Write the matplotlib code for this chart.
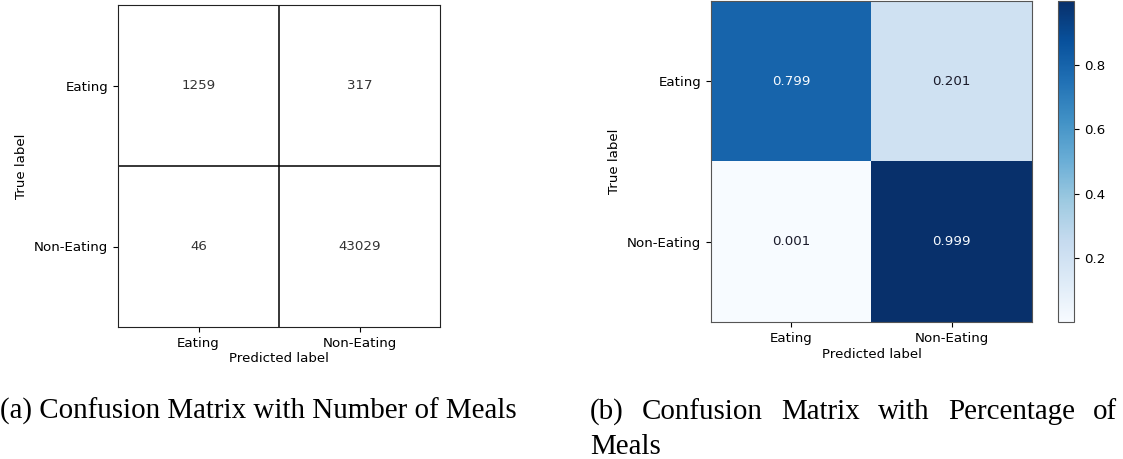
import numpy as np
import matplotlib
matplotlib.use("Agg")
import matplotlib.pyplot as plt
from matplotlib.colors import ListedColormap

# Class names and confusion-matrix values
classes = ["Eating", "Non-Eating"]
counts = [[1259, 317],
          [46, 43029]]
rates = [[0.799, 0.201],
         [0.001, 0.999]]

caption_a = "(a) Confusion Matrix with Number of Meals"
caption_b_line1 = ["(b)", "Confusion", "Matrix", "with", "Percentage", "of"]
caption_b_line2 = "Meals"

W, H = 1123, 459
DPI = 100
fig = plt.figure(figsize=(W / DPI, H / DPI), dpi=DPI)
plt.rcParams["font.family"] = ["DejaVu Sans"]
FS = 9.6


def px_axes(x0, y0, x1, y1):
    """Axes from pixel box (top-left origin)."""
    return fig.add_axes([x0 / W, 1 - y1 / H, (x1 - x0) / W, (y1 - y0) / H])


def style_ticks(ax):
    n = len(classes)
    ax.set_xticks(range(n))
    ax.set_yticks(range(n))
    ax.set_xticklabels(classes, fontsize=FS)
    ax.set_yticklabels(classes, fontsize=FS)
    ax.set_xlabel("Predicted label", fontsize=FS, labelpad=2)
    ax.set_ylabel("True label", fontsize=FS)
    ax.set_xlim(-0.5, n - 0.5)
    ax.set_ylim(n - 0.5, -0.5)


# ---- (a) counts, plain white cells with black grid ----
ax1 = px_axes(118, 5, 440, 327)
cnt = np.array(counts)
ax1.imshow(cnt, cmap=ListedColormap(["white"]), aspect="auto")
for i in range(cnt.shape[0]):
    for j in range(cnt.shape[1]):
        ax1.text(j, i, str(cnt[i, j]), ha="center", va="center",
                 fontsize=FS, color="#333333")
ax1.axhline(0.5, color="black", lw=1.1)
ax1.axvline(0.5, color="black", lw=1.1)
style_ticks(ax1)
for s in ax1.spines.values():
    s.set_color("#222222")

# ---- (b) normalized rates on Blues ----
ax2 = px_axes(711, 1, 1032, 322)
rt = np.array(rates)
cmap = plt.get_cmap("Blues")
im = ax2.imshow(rt, cmap=cmap, aspect="auto")
thresh = (rt.max() + rt.min()) / 2
for i in range(rt.shape[0]):
    for j in range(rt.shape[1]):
        col = cmap(0.0) if rt[i, j] > thresh else "#1a1a2a"
        ax2.text(j, i, f"{rt[i, j]:.3f}", ha="center", va="center",
                 fontsize=FS, color=col)
style_ticks(ax2)
for s in ax2.spines.values():
    s.set_color("#555555")

cax = px_axes(1058, 1, 1074, 322)
cb = fig.colorbar(im, cax=cax)
cb.set_ticks([0.2, 0.4, 0.6, 0.8])
cb.ax.tick_params(labelsize=FS)
cb.outline.set_edgecolor("#555555")

# ---- captions ----
serif = ["Liberation Serif", "DejaVu Serif"]
cap_size = 18.5
fig.canvas.draw()
renderer = fig.canvas.get_renderer()

ta = fig.text(0 / W, 1 - 419 / H, caption_a, family=serif, fontsize=cap_size,
              ha="left", va="baseline")
wa = ta.get_window_extent(renderer).width
cap_size = cap_size * 519 / wa
ta.set_fontsize(cap_size)

# justified first line of caption (b)
x_left, x_right = 590, 1117
words = [fig.text(0, 1 - 419 / H, w, family=serif, fontsize=cap_size,
                  ha="left", va="baseline") for w in caption_b_line1]
widths = [t.get_window_extent(renderer).width for t in words]
gap = (x_right - x_left - sum(widths)) / (len(words) - 1)
x = x_left
for t, w in zip(words, widths):
    t.set_x(x / W)
    x += w + gap

fig.text(x_left / W, 1 - 454 / H, caption_b_line2, family=serif,
         fontsize=cap_size, ha="left", va="baseline")

fig.savefig("out.png", dpi=DPI)
